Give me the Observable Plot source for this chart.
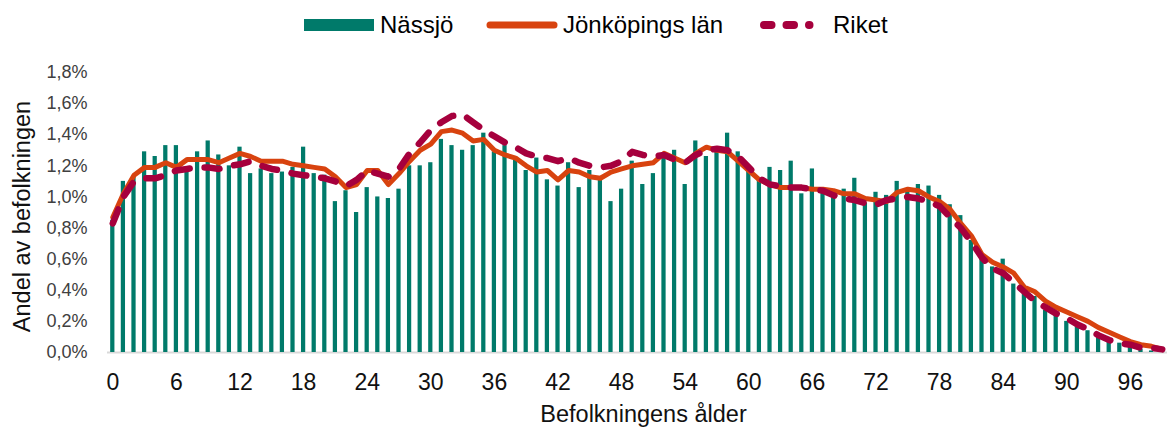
<!DOCTYPE html>
<html>
<head>
<meta charset="utf-8">
<script src="https://cdn.jsdelivr.net/npm/d3@7"></script>
<script src="https://cdn.jsdelivr.net/npm/@observablehq/plot@0.6"></script>
<style>
  html, body { margin: 0; padding: 0; background: #fff; }
  #wrap { width: 1167px; height: 428px; position: relative; font-family: "Liberation Sans", Arial, sans-serif; }
  #legend { position: relative; height: 50px; font-size: 24px; color: #000; white-space: nowrap; }
  #legend .it { position: absolute; }
  #legend .lab { top: 11px; line-height: 28px; }
  svg { display: block; }
</style>
</head>
<body>
<div id="wrap">
  <div id="legend"></div>
  <div id="chart"></div>
</div>
<script>
// ---- data ----
const ages = d3.range(0, 100);
const xTicks = [0, 6, 12, 18, 24, 30, 36, 42, 48, 54, 60, 66, 72, 78, 84, 90, 96];
const yTicks = [0, 0.2, 0.4, 0.6, 0.8, 1.0, 1.2, 1.4, 1.6, 1.8];
const seriesNames = ["Nässjö", "Jönköpings län", "Riket"];
const xTitle = "Befolkningens ålder";
const yTitle = "Andel av befolkningen";

const nassjo = [
  0.85, 1.10, 1.13, 1.29, 1.26, 1.33, 1.33, 1.19, 1.29, 1.36,
  1.27, 1.20, 1.32, 1.15, 1.18, 1.15, 1.16, 1.19, 1.32, 1.15,
  1.14, 0.97, 1.04, 0.90, 1.06, 1.00, 0.99, 1.05, 1.20, 1.20,
  1.22, 1.37, 1.33, 1.30, 1.33, 1.41, 1.29, 1.33, 1.24, 1.17,
  1.25, 1.11, 1.07, 1.22, 1.06, 1.17, 1.11, 0.97, 1.05, 1.23,
  1.08, 1.15, 1.25, 1.30, 1.08, 1.36, 1.26, 1.29, 1.41, 1.29,
  1.17, 1.11, 1.19, 1.17, 1.23, 1.02, 1.18, 1.03, 1.00, 1.05,
  1.12, 0.96, 1.03, 1.01, 1.10, 1.05, 1.08, 1.07, 1.01, 0.95,
  0.88, 0.72, 0.60, 0.55, 0.60, 0.44, 0.38, 0.36, 0.27, 0.25,
  0.20, 0.19, 0.14, 0.10, 0.08, 0.06, 0.04, 0.02, 0.01, 0.005
];
const jonkoping = [
  0.87, 1.02, 1.14, 1.19, 1.19, 1.22, 1.19, 1.24, 1.24, 1.24,
  1.22, 1.25, 1.28, 1.26, 1.23, 1.23, 1.23, 1.21, 1.20, 1.19,
  1.18, 1.13, 1.06, 1.08, 1.17, 1.17, 1.08, 1.15, 1.23, 1.30,
  1.34, 1.42, 1.43, 1.41, 1.36, 1.37, 1.30, 1.27, 1.25, 1.20,
  1.16, 1.17, 1.11, 1.17, 1.16, 1.13, 1.12, 1.16, 1.18, 1.20,
  1.21, 1.22, 1.28, 1.25, 1.22, 1.28, 1.32, 1.30, 1.29, 1.23,
  1.17, 1.11, 1.08, 1.06, 1.06, 1.06, 1.05, 1.05, 1.04, 1.02,
  1.02, 0.99, 0.98, 0.97, 1.03, 1.05, 1.04, 1.00, 0.97, 0.92,
  0.83, 0.75, 0.63, 0.58, 0.55, 0.51, 0.42, 0.39, 0.33, 0.29,
  0.26, 0.23, 0.20, 0.16, 0.13, 0.10, 0.07, 0.05, 0.04, 0.02
];
const riket = [
  0.83, 1.00, 1.10, 1.12, 1.12, 1.14, 1.17, 1.18, 1.19, 1.19,
  1.18, 1.20, 1.21, 1.23, 1.20, 1.18, 1.17, 1.15, 1.14, 1.13,
  1.12, 1.10, 1.07, 1.11, 1.17, 1.15, 1.13, 1.18, 1.28, 1.35,
  1.43, 1.48, 1.52, 1.53, 1.48, 1.43, 1.39, 1.35, 1.32, 1.28,
  1.26, 1.25, 1.23, 1.25, 1.22, 1.20, 1.19, 1.20, 1.23, 1.29,
  1.27, 1.26, 1.27, 1.24, 1.22, 1.27, 1.30, 1.31, 1.30, 1.26,
  1.19, 1.12, 1.08, 1.07, 1.06, 1.06, 1.05, 1.04, 1.01, 0.99,
  0.98, 0.96, 0.95, 0.98, 0.99, 1.00, 0.99, 0.97, 0.94, 0.87,
  0.80, 0.71, 0.61, 0.54, 0.51, 0.45, 0.39, 0.33, 0.29, 0.25,
  0.22, 0.18, 0.15, 0.11, 0.08, 0.06, 0.05, 0.03, 0.03, 0.02
];

const colors = { nassjo: "#007A6A", lan: "#D8430F", riket: "#A6003D" };

// ---- table ----
const table = ages.map((a, i) => ({ age: a, nassjo: nassjo[i], lan: jonkoping[i], riket: riket[i] }));

// ---- legend ----
const legend = document.getElementById("legend");
legend.innerHTML = `
  <div class="it" style="left:304px;top:19px;width:70px;height:12px;background:${colors.nassjo}"></div>
  <div class="it lab" style="left:380px">${seriesNames[0]}</div>
  <svg class="it" style="left:484px;top:19px" width="76" height="12"><line x1="6" y1="6" x2="70" y2="6" stroke="${colors.lan}" stroke-width="7" stroke-linecap="round"/></svg>
  <div class="it lab" style="left:563px">${seriesNames[1]}</div>
  <svg class="it" style="left:756px;top:19px" width="64" height="12"><line x1="8" y1="6" x2="53.5" y2="6" stroke="${colors.riket}" stroke-width="8" stroke-linecap="round" stroke-dasharray="7.5,15"/></svg>
  <div class="it lab" style="left:833px">${seriesNames[2]}</div>`;

// ---- chart ----
const fmt = d => d.toFixed(1).replace(".", ",") + "%";

const chart = Plot.plot({
  width: 1167,
  height: 378,
  marginLeft: 107,
  marginRight: 0,
  marginTop: 22,
  marginBottom: 76,
  style: { fontFamily: "'Liberation Sans', Arial, sans-serif", background: "#fff", overflow: "visible" },
  x: { type: "band", domain: ages, paddingInner: 0.6, paddingOuter: 0.3 },
  y: { domain: [0, 1.8] },
  marks: [
    Plot.ruleY([0], { stroke: "#d9d9d9", strokeWidth: 2 }),
    Plot.barY(table, { x: "age", y: "nassjo", fill: colors.nassjo }),
    Plot.line(table, { x: "age", y: "lan", stroke: colors.lan, strokeWidth: 5, strokeLinejoin: "round", strokeLinecap: "round" }),
    Plot.line(table, { x: "age", y: "riket", stroke: colors.riket, strokeWidth: 6.5, strokeLinejoin: "round", strokeLinecap: "round", strokeDasharray: "15,15" }),
    Plot.axisY({ ticks: yTicks, tickSize: 0, tickPadding: 20, tickFormat: fmt, fontSize: 18, color: "#404040", label: null }),
    Plot.axisX({ ticks: xTicks, tickSize: 0, tickPadding: 21, fontSize: 23, color: "#111", label: null }),
    Plot.text([xTitle], { text: d => d, frameAnchor: "bottom", textAnchor: "middle", lineAnchor: "middle", dx: 6, dy: 62, fontSize: 23.5, fill: "#111" }),
    Plot.text([yTitle], { text: d => d, frameAnchor: "left", textAnchor: "middle", lineAnchor: "middle", rotate: -90, dx: -85, dy: 4, fontSize: 23.5, fill: "#111" })
  ]
});
document.getElementById("chart").appendChild(chart);
</script>
</body>
</html>
